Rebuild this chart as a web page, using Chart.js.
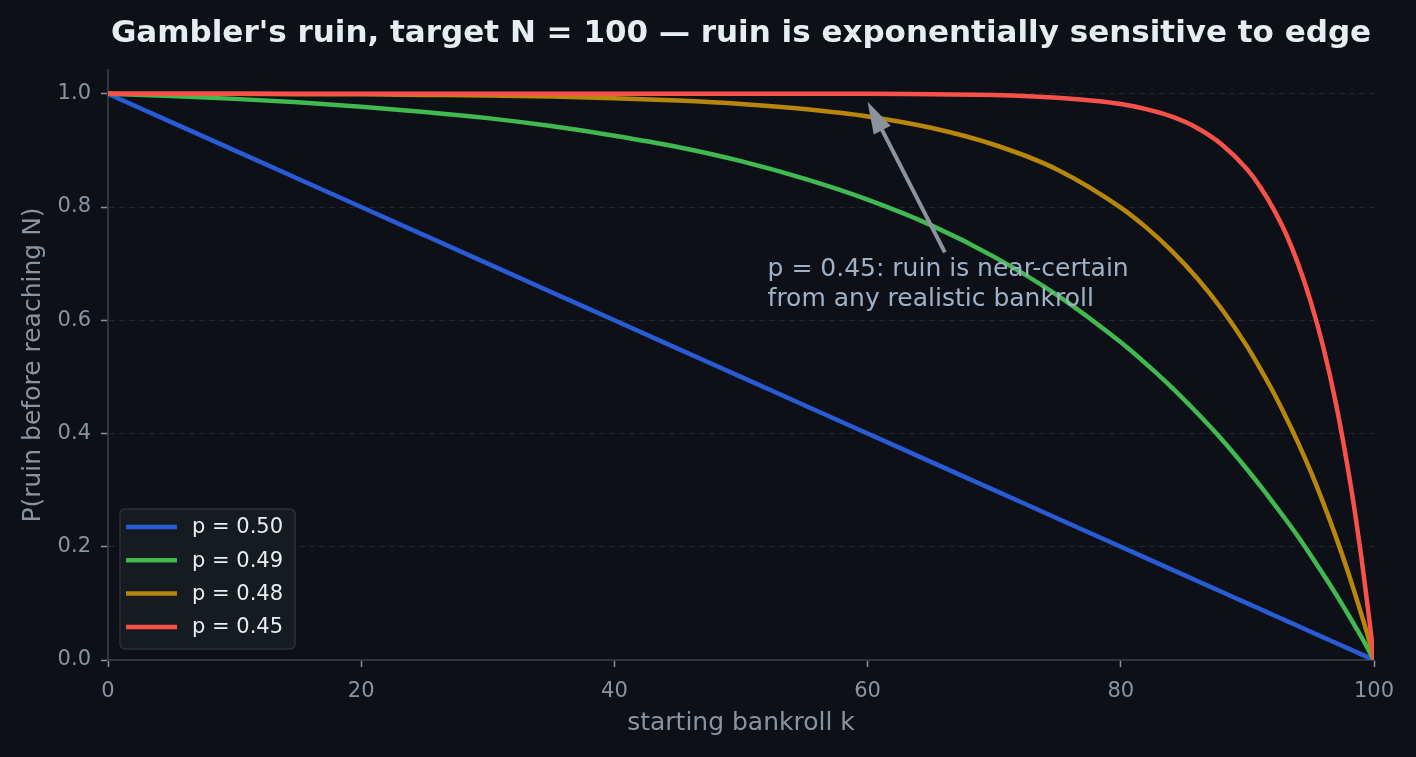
<!DOCTYPE html>
<html>
<head>
<meta charset="utf-8">
<title>Gambler's ruin</title>
<script src="https://cdn.jsdelivr.net/npm/chart.js@4.4.1/dist/chart.umd.min.js"></script>
<style>
  html, body { margin: 0; padding: 0; background: #0d1117; }
  #wrap { width: 1416px; height: 757px; }
</style>
</head>
<body>
<div id="wrap"><canvas id="chart" width="1416" height="757"></canvas></div>
<script>
// 읽어낸 값: starting bankroll k, 그리고 각 p 에 대한 ruin 확률
const bankroll = [0, 5, 10, 15, 20, 25, 30, 35, 40, 45, 50, 55, 60, 65, 70, 75, 80, 82, 84, 86, 88, 90, 91, 92, 93, 94, 95, 96, 97, 98, 98.5, 99, 99.5, 99.75, 100];

const ruinP50 = [1.000, 0.950, 0.900, 0.850, 0.800, 0.750, 0.700, 0.650, 0.600, 0.550, 0.500, 0.450, 0.400, 0.350, 0.300, 0.250, 0.200, 0.180, 0.160, 0.140, 0.120, 0.100, 0.090, 0.080, 0.070, 0.060, 0.050, 0.040, 0.030, 0.020, 0.015, 0.010, 0.005, 0.0025, 0.000];
const ruinP49 = [1.000, 0.996, 0.991, 0.985, 0.977, 0.968, 0.957, 0.943, 0.926, 0.906, 0.881, 0.850, 0.813, 0.768, 0.712, 0.644, 0.561, 0.523, 0.482, 0.437, 0.389, 0.336, 0.308, 0.279, 0.249, 0.218, 0.185, 0.151, 0.116, 0.079, 0.060, 0.041, 0.021, 0.010, 0.000];
const ruinP48 = [1.000, 1.000, 1.000, 0.999, 0.999, 0.998, 0.997, 0.995, 0.992, 0.988, 0.982, 0.973, 0.960, 0.940, 0.910, 0.866, 0.799, 0.764, 0.723, 0.675, 0.619, 0.553, 0.515, 0.475, 0.431, 0.384, 0.333, 0.277, 0.217, 0.152, 0.117, 0.081, 0.044, 0.024, 0.000];
const ruinP45 = [1.000, 1.000, 1.000, 1.000, 1.000, 1.000, 1.000, 1.000, 1.000, 1.000, 1.000, 1.000, 1.000, 0.999, 0.998, 0.993, 0.982, 0.973, 0.960, 0.940, 0.910, 0.866, 0.836, 0.799, 0.755, 0.700, 0.633, 0.552, 0.452, 0.330, 0.260, 0.182, 0.095, 0.049, 0.000];

const seriesLabels = ['p = 0.50', 'p = 0.49', 'p = 0.48', 'p = 0.45'];
const seriesColors = ['#2a5bd7', '#3fb950', '#b8860b', '#f85149'];
const xTicks = [0, 20, 40, 60, 80, 100];
const yTicks = [0, 0.2, 0.4, 0.6, 0.8, 1.0];

const FONT = 'DejaVu Sans';

function toPoints(values) {
  return bankroll.map((k, i) => ({ x: k, y: values[i] }));
}

// 배경 채우기
const bgPlugin = {
  id: 'bg',
  beforeDraw(chart) {
    const ctx = chart.ctx;
    ctx.save();
    ctx.fillStyle = '#0d1117';
    ctx.fillRect(0, 0, chart.width, chart.height);
    ctx.restore();
  }
};

// 왼쪽 아래 범례 박스
const legendBoxPlugin = {
  id: 'legendBox',
  afterDatasetsDraw(chart) {
    const ctx = chart.ctx;
    const area = chart.chartArea;
    const x = area.left + 12;
    const w = 175;
    const rowH = 33.3;
    const h = 140;
    const y = area.bottom - 11 - h;

    ctx.save();
    ctx.beginPath();
    ctx.roundRect(x, y, w, h, 5);
    ctx.fillStyle = '#161b22';
    ctx.fill();
    ctx.lineWidth = 1.5;
    ctx.strokeStyle = '#2b313a';
    ctx.stroke();

    ctx.font = '21px "' + FONT + '"';
    ctx.textBaseline = 'middle';
    chart.data.datasets.forEach((ds, i) => {
      const cy = y + 18 + i * rowH;
      ctx.beginPath();
      ctx.moveTo(x + 6, cy);
      ctx.lineTo(x + 57, cy);
      ctx.lineWidth = 4.5;
      ctx.strokeStyle = ds.borderColor;
      ctx.stroke();
      ctx.fillStyle = '#e6edf3';
      ctx.fillText(ds.label, x + 72, cy + 1);
    });
    ctx.restore();
  }
};

// 화살표 + 설명 텍스트
const annotationPlugin = {
  id: 'arrowNote',
  afterDatasetsDraw(chart) {
    const ctx = chart.ctx;
    const xs = chart.scales.x;
    const ys = chart.scales.y;
    const tip = { x: xs.getPixelForValue(60), y: ys.getPixelForValue(0.986) };
    const tail = { x: xs.getPixelForValue(66.1), y: ys.getPixelForValue(0.72) };

    const dx = tip.x - tail.x, dy = tip.y - tail.y;
    const len = Math.hypot(dx, dy);
    const ux = dx / len, uy = dy / len;
    const headLen = 32, headW = 19;
    const bx = tip.x - ux * headLen, by = tip.y - uy * headLen;

    ctx.save();
    ctx.strokeStyle = '#8b949e';
    ctx.fillStyle = '#8b949e';
    ctx.lineWidth = 4;
    ctx.beginPath();
    ctx.moveTo(tail.x, tail.y);
    ctx.lineTo(bx + ux * 4, by + uy * 4);
    ctx.stroke();
    ctx.beginPath();
    ctx.moveTo(tip.x, tip.y);
    ctx.lineTo(bx - uy * headW / 2, by + ux * headW / 2);
    ctx.lineTo(bx + uy * headW / 2, by - ux * headW / 2);
    ctx.closePath();
    ctx.fill();

    ctx.font = '25px "' + FONT + '"';
    ctx.fillStyle = '#a0b1c6';
    ctx.textBaseline = 'middle';
    const tx = xs.getPixelForValue(52.1);
    const ty = ys.getPixelForValue(0.689);
    ctx.fillText('p = 0.45: ruin is near-certain', tx, ty);
    ctx.fillText('from any realistic bankroll', tx, ty + 30);
    ctx.restore();
  }
};

const datasets = [
  { label: seriesLabels[0], data: toPoints(ruinP50), borderColor: seriesColors[0], order: 3 },
  { label: seriesLabels[1], data: toPoints(ruinP49), borderColor: seriesColors[1], order: 2 },
  { label: seriesLabels[2], data: toPoints(ruinP48), borderColor: seriesColors[2], order: 1 },
  { label: seriesLabels[3], data: toPoints(ruinP45), borderColor: seriesColors[3], order: 0 }
].map(ds => Object.assign(ds, {
  borderWidth: 4.5,
  pointRadius: 0,
  fill: false,
  cubicInterpolationMode: 'monotone'
}));

new Chart(document.getElementById('chart'), {
  type: 'line',
  data: { datasets: datasets },
  options: {
    responsive: false,
    animation: false,
    layout: { padding: { top: 0, right: 42, bottom: 0, left: 0 } },
    plugins: {
      legend: { display: false },
      tooltip: { enabled: false },
      title: {
        display: true,
        fullSize: false,
        text: "Gambler's ruin, target N = 100 \u2014 ruin is exponentially sensitive to edge",
        color: '#e6edf3',
        font: { family: FONT, size: 31, weight: 'bold' },
        padding: { top: 15, bottom: 17.8 }
      }
    },
    scales: {
      x: {
        type: 'linear',
        min: 0,
        max: 100,
        afterBuildTicks: scale => { scale.ticks = xTicks.map(v => ({ value: v })); },
        afterFit: scale => { scale.height = 97; },
        ticks: {
          color: '#8b949e',
          font: { family: FONT, size: 21 },
          padding: 12,
          maxRotation: 0
        },
        grid: {
          display: true,
          drawOnChartArea: false,
          drawTicks: true,
          tickLength: 7,
          tickColor: '#8b949e',
          tickWidth: 1.5
        },
        border: { display: true, color: '#30363d', width: 2 },
        title: {
          display: true,
          text: 'starting bankroll k',
          color: '#8b949e',
          font: { family: FONT, size: 25 },
          padding: { top: 0, bottom: 19 }
        }
      },
      y: {
        type: 'linear',
        min: 0,
        max: 1.042,
        afterBuildTicks: scale => { scale.ticks = yTicks.map(v => ({ value: v })); },
        afterFit: scale => { scale.width = 108; },
        ticks: {
          color: '#8b949e',
          font: { family: FONT, size: 21 },
          padding: 10,
          callback: v => Number(v).toFixed(1)
        },
        grid: {
          display: true,
          drawOnChartArea: true,
          drawTicks: true,
          color: '#21262d',
          lineWidth: 1,
          tickLength: 7,
          tickColor: '#8b949e',
          tickWidth: 1.5,
          tickBorderDash: []
        },
        border: { display: true, color: '#30363d', width: 2, dash: [6, 4] },
        title: {
          display: true,
          text: 'P(ruin before reaching N)',
          color: '#8b949e',
          font: { family: FONT, size: 25 },
          padding: { top: 18, bottom: 0 }
        }
      }
    }
  },
  plugins: [bgPlugin, legendBoxPlugin, annotationPlugin]
});
</script>
</body>
</html>
